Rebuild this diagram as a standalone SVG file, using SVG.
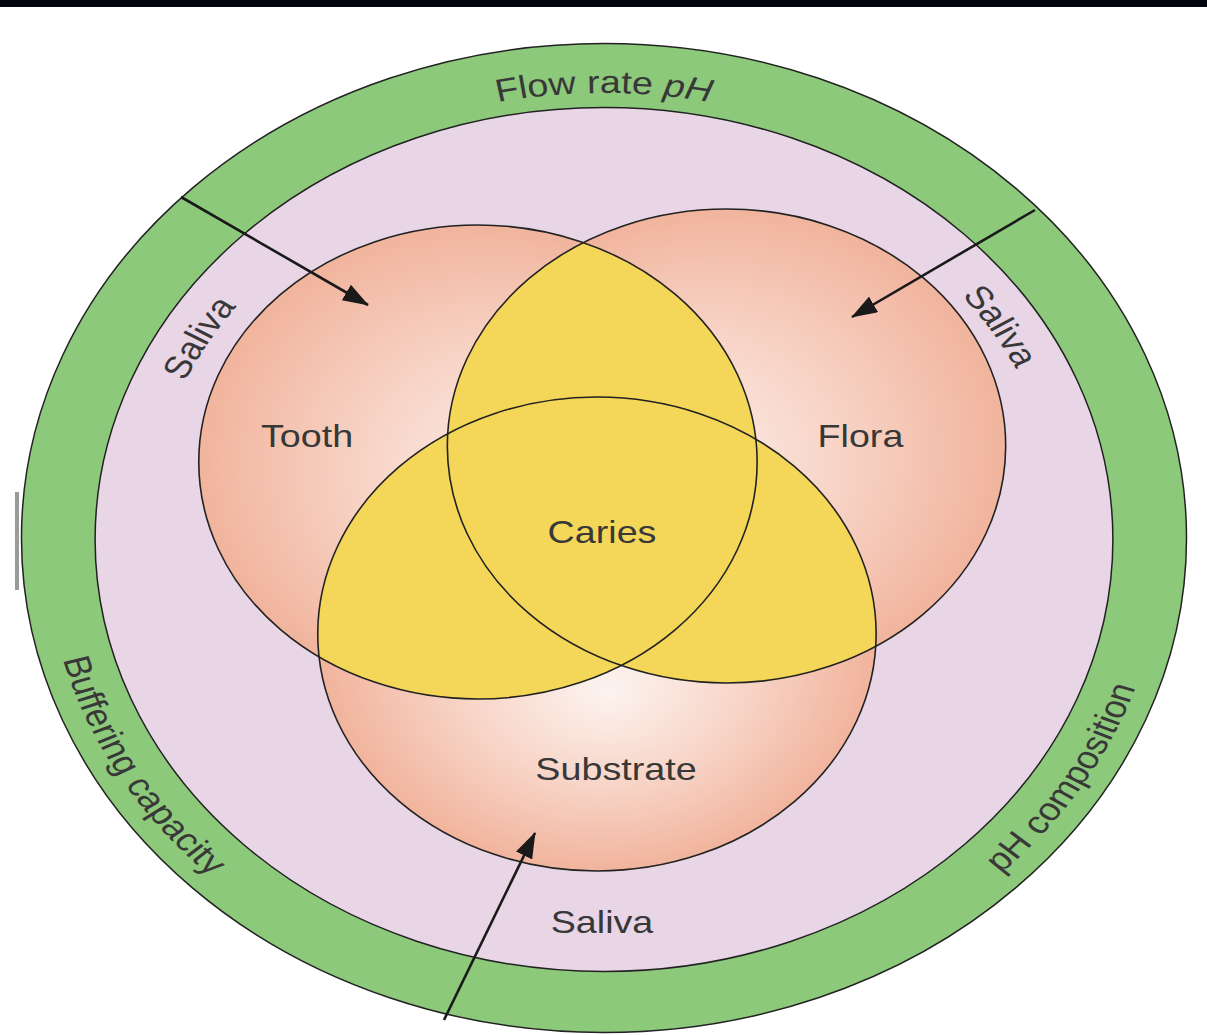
<svg xmlns="http://www.w3.org/2000/svg" width="1207" height="1035" viewBox="0 0 1207 1035">
<style>
.lbl{font-family:"Liberation Sans",Arial,sans-serif;font-size:32px;fill:#383838;}
.mid{text-anchor:middle;}
.edge{fill:none;stroke:#222;stroke-width:1.6;vector-effect:non-scaling-stroke;}
.yel{fill:#f4d758;}
.conn{fill:none;stroke:#1a1a1a;stroke-width:2.6;marker-end:url(#ah);}
</style>
<defs>
<radialGradient id="gT" cx="0.5" cy="0.5" r="0.5" fx="0.64" fy="0.56">
<stop offset="0" stop-color="#fcf3ef"/><stop offset="0.5" stop-color="#f8d6c9"/><stop offset="1" stop-color="#f1b49d"/>
</radialGradient>
<radialGradient id="gF" cx="0.5" cy="0.5" r="0.5" fx="0.36" fy="0.56">
<stop offset="0" stop-color="#fcf3ef"/><stop offset="0.5" stop-color="#f8d6c9"/><stop offset="1" stop-color="#f1b49d"/>
</radialGradient>
<radialGradient id="gS" cx="0.5" cy="0.5" r="0.5" fx="0.52" fy="0.62">
<stop offset="0" stop-color="#fcf3ef"/><stop offset="0.5" stop-color="#f8d6c9"/><stop offset="1" stop-color="#f1b49d"/>
</radialGradient>
<clipPath id="cT"><circle cx="-107" cy="462" r="237"/></clipPath>
<clipPath id="cF"><circle cx="104" cy="446" r="237"/></clipPath>
<marker id="ah" markerUnits="userSpaceOnUse" markerWidth="26" markerHeight="18" viewBox="0 0 26 18" refX="25" refY="9" orient="auto">
<path d="M0,0 L26,9 L0,18 z" fill="#1a1a1a"/>
</marker>
<path id="pFlow" d="M -315.4 223.6 A 446 446 0 0 1 315.4 223.6"/>
<path id="pBuf" d="M -458.8 416.1 A 475 475 0 0 0 -122.9 997.8"/>
<path id="pPH" d="M 110.9 1000.9 A 475 475 0 0 0 461.9 428.1"/>
<path id="pSalL" d="M -376.3 637.7 A 389 389 0 0 1 -98.7 162.7"/>
<path id="pSalR" d="M 85.5 159.5 A 389 389 0 0 1 379.5 624.5"/>
</defs>
<rect x="0" y="0" width="1207" height="1035" fill="#ffffff"/>
<rect x="0" y="0" width="1207" height="7" fill="#05050f"/>
<rect x="15" y="492" width="4" height="98" fill="#9a9a9a"/>
<g transform="translate(604,0) scale(1.178,1)">
<g id="saliva-outer-ring">
<circle cx="0" cy="538" r="494.5" fill="#8dc97b" stroke="#222" stroke-width="1.5" vector-effect="non-scaling-stroke"/>
<text class="lbl mid"><textPath href="#pFlow" startOffset="50%">Flow rate <tspan font-style="italic">pH</tspan></textPath></text>
<text class="lbl mid"><textPath href="#pBuf" startOffset="50%">Buffering capacity</textPath></text>
<text class="lbl mid"><textPath href="#pPH" startOffset="50%">pH composition</textPath></text>
</g>
<g id="saliva-inner">
<circle cx="0" cy="539.5" r="432" fill="#e8d5e5" stroke="#222" stroke-width="1.5" vector-effect="non-scaling-stroke"/>
<text class="lbl mid"><textPath href="#pSalL" startOffset="50%">Saliva</textPath></text>
<text class="lbl mid"><textPath href="#pSalR" startOffset="50%">Saliva</textPath></text>
<text class="lbl mid" x="-1.7" y="933">Saliva</text>
</g>
<g id="tooth">
<circle cx="-107" cy="462" r="237" fill="url(#gT)"/>
</g>
<g id="flora">
<circle cx="104" cy="446" r="237" fill="url(#gF)"/>
</g>
<g id="substrate">
<circle cx="-6" cy="634" r="237" fill="url(#gS)"/>
</g>
<g id="caries">
<circle class="yel" cx="104" cy="446" r="237" clip-path="url(#cT)"/>
<circle class="yel" cx="-6" cy="634" r="237" clip-path="url(#cT)"/>
<circle class="yel" cx="-6" cy="634" r="237" clip-path="url(#cF)"/>
</g>
<g id="outlines">
<circle class="edge" cx="-107" cy="462" r="237"/>
<circle class="edge" cx="104" cy="446" r="237"/>
<circle class="edge" cx="-6" cy="634" r="237"/>
</g>
<g id="labels">
<text class="lbl mid" x="-252.1" y="447">Tooth</text>
<text class="lbl mid" x="217.7" y="447">Flora</text>
<text class="lbl mid" x="-1.7" y="543">Caries</text>
<text class="lbl mid" x="10.2" y="780">Substrate</text>
</g>
</g>
<g id="connectors">
<line class="conn" x1="181" y1="197" x2="368" y2="305"/>
<line class="conn" x1="1035" y1="210" x2="852" y2="317"/>
<line class="conn" x1="444" y1="1020" x2="535" y2="833"/>
</g>
</svg>
